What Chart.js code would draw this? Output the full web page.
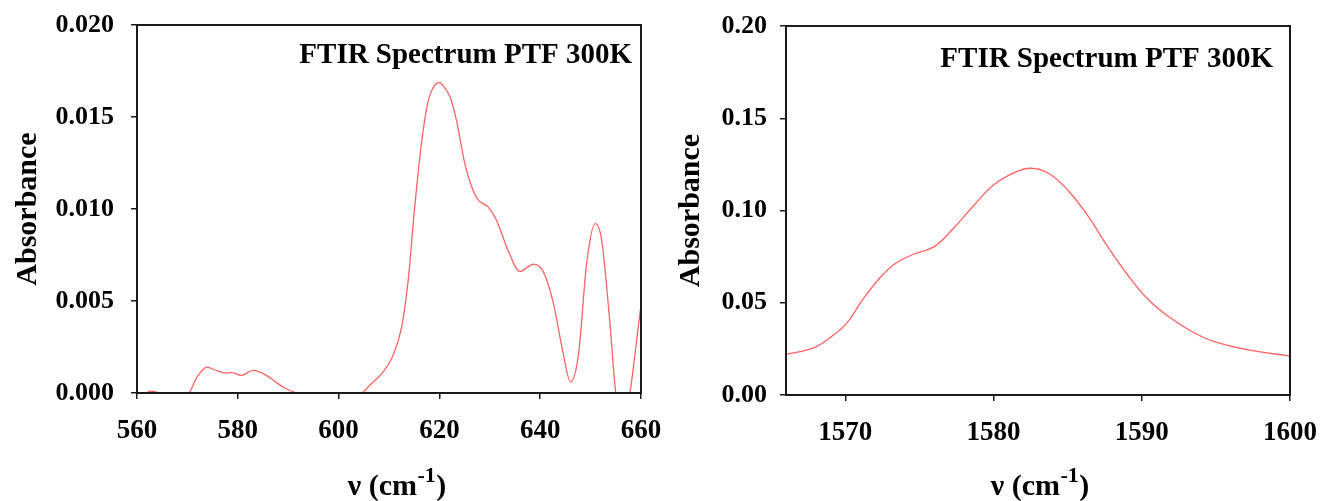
<!DOCTYPE html>
<html>
<head>
<meta charset="utf-8">
<script src="https://cdn.jsdelivr.net/npm/chart.js@4/dist/chart.umd.min.js"></script>
<style>
  html, body { margin: 0; padding: 0; background: #fff; }
  #wrap { position: relative; width: 1327px; height: 501px; overflow: hidden; }
  .pane { position: absolute; top: 0; height: 501px; }
</style>
</head>
<body>
<div id="wrap">
  <div class="pane" style="left:0;width:663px;"><canvas id="c1" width="663" height="501"></canvas></div>
  <div class="pane" style="left:663px;width:664px;"><canvas id="c2" width="664" height="501"></canvas></div>
</div>
<script>
// ---- Data ----
const leftWavenumbers = [560, 561.5, 562.6, 563.5, 564.5, 565.8, 567, 568.5, 570.3, 572, 573.9, 575.5, 577.7, 578.7, 580.7, 583.0, 585.7, 587.5, 589.3, 591.6, 594, 597, 600, 603, 604.7, 606.2, 608.8, 610.8, 612.5, 613.8, 615.1, 616.5, 617.8, 619, 620.0, 621, 622.1, 623.4, 625.1, 627.4, 629.7, 631.3, 633.7, 636.0, 637.3, 638.6, 640.6, 642.6, 644.6, 646.0, 647.6, 649.2, 650.9, 652.2, 653.8, 655.0, 656.4, 657.8, 658.8, 660];
const leftAbsorbance = [-0.0002, -0.00005, 0.0001, 0.00008, 0.0, -0.0002, -0.0004, -0.0003, 0.0, 0.0009, 0.00141, 0.00125, 0.00108, 0.00112, 0.00096, 0.00123, 0.00096, 0.0006, 0.00027, 0.0, -0.0003, -0.0005, -0.0005, -0.0003, 0.0, 0.00042, 0.00114, 0.00204, 0.00358, 0.00611, 0.0101, 0.0137, 0.0159, 0.0167, 0.01687, 0.0166, 0.0161, 0.0148, 0.0124, 0.0106, 0.0101, 0.0094, 0.0077, 0.0066, 0.0068, 0.0070, 0.0066, 0.0049, 0.0021, 0.0006, 0.0021, 0.0070, 0.0092, 0.0083, 0.0039, 0.0, -0.0012, 0.0, 0.0021, 0.0048];

const rightWavenumbers = [1566.0, 1567.9, 1569.2, 1570.1, 1571.2, 1572.4, 1573.4, 1574.6, 1576.0, 1577.3, 1578.7, 1580.0, 1581.4, 1582.5, 1583.7, 1585.0, 1586.4, 1587.7, 1589.1, 1590.4, 1591.8, 1593.4, 1594.9, 1597.2, 1600.0];
const rightAbsorbance = [0.0220, 0.0257, 0.0325, 0.0390, 0.0520, 0.0641, 0.0714, 0.0763, 0.0804, 0.0904, 0.1030, 0.1138, 0.1205, 0.1229, 0.1202, 0.1111, 0.0967, 0.0804, 0.0645, 0.0520, 0.0425, 0.0343, 0.0289, 0.0244, 0.0211];

const leftXTicks = [560, 580, 600, 620, 640, 660];
const leftYTicks = [0, 0.005, 0.010, 0.015, 0.020];
const rightXTicks = [1570, 1580, 1590, 1600];
const rightYTicks = [0, 0.05, 0.10, 0.15, 0.20];

const annotationText = 'FTIR Spectrum PTF 300K';
const xTitleBase = 'ν (cm';
const xTitleSup = '-1';
const xTitleEnd = ')';
const yTitle = 'Absorbance';

// ---- Styling ----
const SERIF = "'Liberation Serif', 'Times New Roman', serif";
const LINE_COLOR = 'rgba(255, 90, 90, 0.95)';

const framePlugin = {
  id: 'frame',
  afterDraw(chart, args, opts) {
    const {ctx, chartArea: a} = chart;
    ctx.save();
    ctx.strokeStyle = '#1a1a1a';
    ctx.lineWidth = 2;
    ctx.strokeRect(a.left, a.top, a.right - a.left, a.bottom - a.top);
    ctx.fillStyle = '#000';
    // annotation
    ctx.font = 'bold 29px ' + SERIF;
    ctx.textAlign = 'right';
    ctx.textBaseline = 'alphabetic';
    ctx.fillText(opts.text, a.right - opts.dx, a.top + opts.dy);
    // x-axis title with superscript
    const fBase = 'bold 30px ' + SERIF, fSup = 'bold 22px ' + SERIF;
    ctx.font = fBase; const w1 = ctx.measureText(xTitleBase).width; const w3 = ctx.measureText(xTitleEnd).width;
    ctx.font = fSup; const w2 = ctx.measureText(xTitleSup).width;
    const total = w1 + w2 + w3 + 1;
    let x = (a.left + a.right) / 2 + opts.titleShift - total / 2;
    const y = opts.titleBaseline;
    ctx.textAlign = 'left';
    ctx.font = fBase; ctx.fillText(xTitleBase, x, y); x += w1 + 0.5;
    ctx.font = fSup; ctx.fillText(xTitleSup, x, y - 13); x += w2 + 0.5;
    ctx.font = fBase; ctx.fillText(xTitleEnd, x, y);
    ctx.restore();
  }
};

function makeChart(id, xs, ys, xTicks, yTicks, cfg) {
  const pts = xs.map((x, i) => ({x: x, y: ys[i]}));
  return new Chart(document.getElementById(id), {
    type: 'line',
    data: { datasets: [{
      data: pts,
      borderColor: LINE_COLOR,
      borderWidth: 1.3,
      pointRadius: 0,
      fill: false,
      tension: cfg.tension,
      cubicInterpolationMode: cfg.mode
    }]},
    options: {
      responsive: false,
      animation: false,
      devicePixelRatio: 1,
      layout: { padding: { left: 0, top: cfg.top, right: cfg.right, bottom: 0 } },
      plugins: {
        legend: { display: false },
        tooltip: { enabled: false },
        frame: { text: annotationText, dx: cfg.textDx, dy: cfg.textDy, titleShift: cfg.titleShift, titleBaseline: 495 }
      },
      scales: {
        x: {
          type: 'linear',
          min: cfg.xmin, max: cfg.xmax,
          afterBuildTicks: s => { s.ticks = xTicks.map(v => ({value: v})); },
          afterFit: s => { s.height = cfg.xHeight; s.paddingLeft = 0; s.paddingRight = 0; },
          border: { display: true, color: '#1a1a1a', width: 2 },
          grid: { display: true, drawOnChartArea: false, drawTicks: true, tickLength: 6, color: '#1a1a1a', lineWidth: 1.5 },
          ticks: { color: '#000', font: { family: SERIF, size: 27, weight: 'bold' }, padding: 16, maxRotation: 0,
                   callback: v => String(v) },
          title: { display: false }
        },
        y: {
          type: 'linear',
          min: cfg.ymin, max: cfg.ymax,
          afterBuildTicks: s => { s.ticks = yTicks.map(v => ({value: v})); },
          afterFit: s => { s.width = cfg.yWidth; s.paddingTop = 0; s.paddingBottom = 0; },
          border: { display: true, color: '#1a1a1a', width: 2 },
          grid: { display: true, drawOnChartArea: false, drawTicks: true, tickLength: 6, color: '#1a1a1a', lineWidth: 1.5 },
          ticks: { color: '#000', font: { family: SERIF, size: 26, weight: 'bold' }, padding: cfg.yTickPad,
                   callback: v => Number(v).toFixed(cfg.decimals) },
          title: { display: true, text: yTitle, color: '#000', font: { family: SERIF, size: 30, weight: 'bold' }, padding: { top: cfg.yTitlePad, bottom: 0 } }
        }
      }
    },
    plugins: [framePlugin]
  });
}

makeChart('c1', leftWavenumbers, leftAbsorbance, leftXTicks, leftYTicks, {
  xmin: 560, xmax: 660, ymin: 0, ymax: 0.020, decimals: 3, tension: 0.4, mode: 'monotone',
  top: 25, right: 22, xHeight: 108, yWidth: 137, yTitlePad: 10, yTickPad: 17, textDx: 9, textDy: 38, titleShift: 8
});
makeChart('c2', rightWavenumbers, rightAbsorbance, rightXTicks, rightYTicks, {
  xmin: 1566, xmax: 1600, ymin: 0, ymax: 0.20, decimals: 2, tension: 0.4, mode: 'default',
  top: 26, right: 37, xHeight: 106, yWidth: 123, yTitlePad: 10, yTickPad: 13, textDx: 17, textDy: 41, titleShift: 2
});
</script>
</body>
</html>
